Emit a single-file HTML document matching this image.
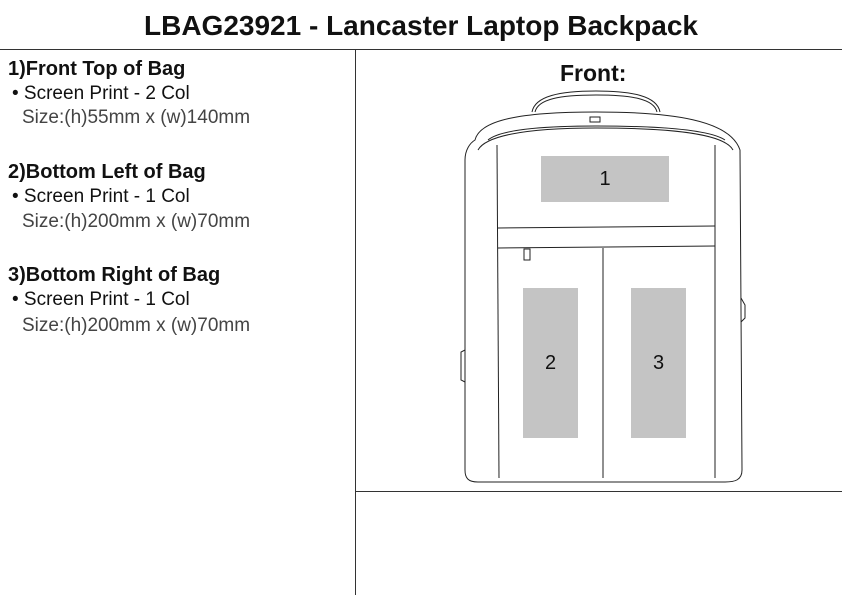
<!DOCTYPE html>
<html><head><style>
body{margin:0;width:842px;height:595px;background:#fff;position:relative;overflow:hidden;font-family:"Liberation Sans",sans-serif;color:#111}
.t{position:absolute;white-space:nowrap}
h1{position:absolute;left:0;width:842px;top:10px;margin:0;text-align:center;font-size:28px;font-weight:bold}
.h{font-weight:bold;font-size:20px;left:8px}
.b{font-size:19px;left:12px}
.s{font-size:19px;left:22px;color:#444}
</style></head><body>
<h1>LBAG23921 - Lancaster Laptop Backpack</h1>
<div style="position:absolute;left:0;top:49px;width:842px;height:1px;background:#333"></div>
<div style="position:absolute;left:355px;top:49px;width:1px;height:546px;background:#333"></div>
<div style="position:absolute;left:355px;top:491px;width:487px;height:1px;background:#333"></div>
<div class="t h" style="top:58px">1)Front Top of Bag</div>
<div class="t b" style="top:83px">• Screen Print - 2 Col</div>
<div class="t s" style="top:107px">Size:(h)55mm x (w)140mm</div>
<div class="t h" style="top:161px">2)Bottom Left of Bag</div>
<div class="t b" style="top:186px">• Screen Print - 1 Col</div>
<div class="t s" style="top:211px">Size:(h)200mm x (w)70mm</div>
<div class="t h" style="top:264px">3)Bottom Right of Bag</div>
<div class="t b" style="top:289px">• Screen Print - 1 Col</div>
<div class="t s" style="top:315px">Size:(h)200mm x (w)70mm</div>
<div class="t" style="left:560px;top:60px;font-size:23px;font-weight:bold">Front:</div>
<svg width="842" height="595" style="position:absolute;left:0;top:0" fill="none" stroke="#222" stroke-width="1">
<path d="M532,112 C535,96 560,91 596,91 C632,91 657,96 660,112"/>
<path d="M535,112 C538,99 560,95 596,95 C632,95 654,99 657,112"/>
<path d="M475,140 C480,120 520,112 596,112 C672,112 730,120 740,150 L742,470 C742,480 735,482 725,482 L478,482 C468,482 465,478 465,470 L465,160 C465,150 470,143 475,140Z"/>
<path d="M478,150 C485,137 520,128 596,128 C680,128 725,135 733,150"/>
<path d="M488,140 C500,130 540,126 596,126 C660,126 710,130 725,140"/>
<line x1="497" y1="145" x2="499" y2="478"/>
<line x1="715" y1="145" x2="715" y2="478"/>
<line x1="498" y1="228" x2="715" y2="226"/>
<line x1="498" y1="248" x2="715" y2="246"/>
<line x1="603" y1="248" x2="603" y2="478"/>
<rect x="524" y="249" width="6" height="11"/>
<rect x="590" y="117" width="10" height="5"/>
<path d="M465,350 L461,352 L461,380 L465,382"/>
<path d="M741,298 L745,305 L745,318 L741,322"/>
</svg>
<div style="position:absolute;left:541px;top:156px;width:128px;height:46px;background:#c4c4c4;text-align:center;line-height:46px;font-size:20px">1</div>
<div style="position:absolute;left:523px;top:288px;width:55px;height:150px;background:#c4c4c4;text-align:center;line-height:150px;font-size:20px">2</div>
<div style="position:absolute;left:631px;top:288px;width:55px;height:150px;background:#c4c4c4;text-align:center;line-height:150px;font-size:20px">3</div>
</body></html>
